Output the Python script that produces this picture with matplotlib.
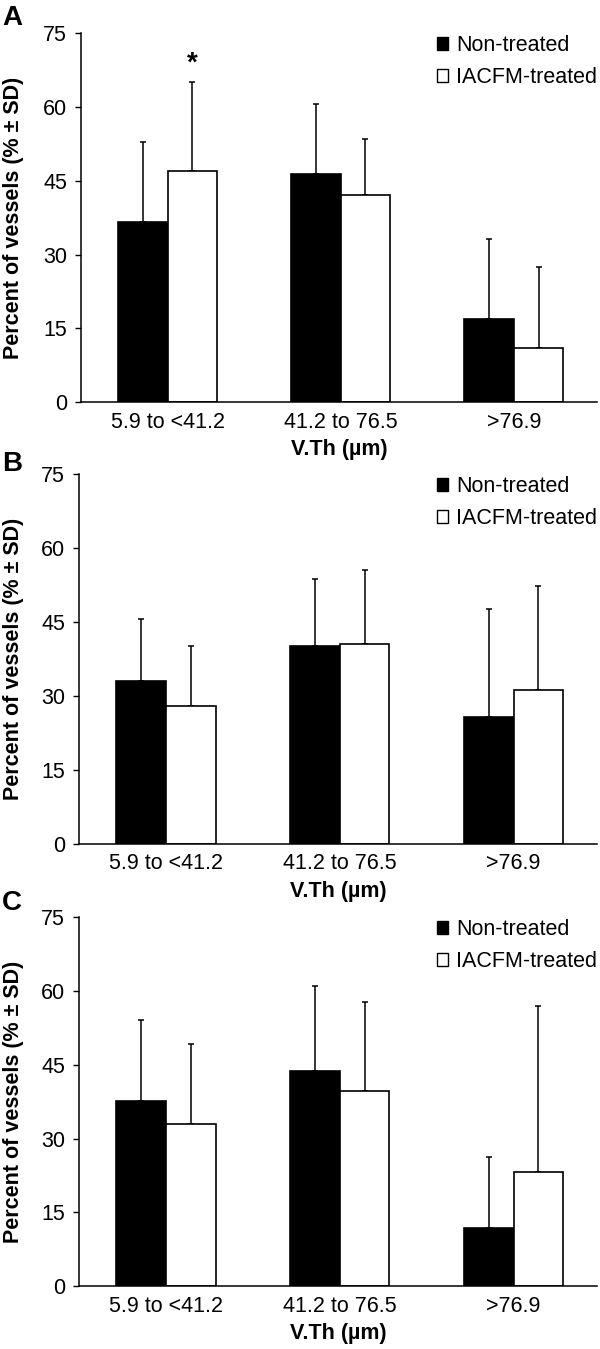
import matplotlib
matplotlib.use("Agg")
import matplotlib.pyplot as plt
import numpy as np

plt.rcParams['font.family'] = ['Liberation Sans', 'DejaVu Sans']

categories = ["5.9 to <41.2", "41.2 to 76.5", ">76.9"]
series_names = ["Non-treated", "IACFM-treated"]
panel_labels = ["A", "B", "C"]

# mean values (%)
A_non = [36.7, 46.4, 16.8]
A_iac = [46.9, 42.1, 10.9]
B_non = [33.0, 40.1, 25.8]
B_iac = [28.0, 40.5, 31.3]
C_non = [37.6, 43.7, 11.7]
C_iac = [32.9, 39.7, 23.2]

# SD (upper error only)
A_non_sd = [16.1, 14.2, 16.4]
A_iac_sd = [18.1, 11.3, 16.6]
B_non_sd = [12.7, 13.6, 21.8]
B_iac_sd = [12.1, 15.0, 21.0]
C_non_sd = [16.5, 17.4, 14.6]
C_iac_sd = [16.3, 18.1, 33.8]

yticks = [0, 15, 30, 45, 60, 75]
xlabel = "V.Th (µm)"
ylabel = "Percent of vessels (% ± SD)"

panels = [
    (A_non, A_iac, A_non_sd, A_iac_sd),
    (B_non, B_iac, B_non_sd, B_iac_sd),
    (C_non, C_iac, C_non_sd, C_iac_sd),
]

W, H = 600, 1349
fig = plt.figure(figsize=(W / 100, H / 100), dpi=100)

# axes rectangles in pixels: left, right, top, bottom
rects = [
    (81, 597, 33.3, 402.0),
    (79, 597, 474.3, 843.7),
    (79, 597, 917.3, 1286.0),
]
letter_y = [18, 463.5, 903.5]

FS = 15.5
bw = 0.286
x = np.arange(len(categories))

for i, ((non, iac, nsd, isd), (l, r, t, b)) in enumerate(zip(panels, rects)):
    ax = fig.add_axes([l / W, 1 - b / H, (r - l) / W, (b - t) / H])
    ax.bar(x - bw / 2, non, bw, color="black", edgecolor="black", linewidth=1.2,
           label=series_names[0], zorder=2)
    ax.bar(x + bw / 2, iac, bw, color="white", edgecolor="black", linewidth=1.2,
           label=series_names[1], zorder=2)
    ax.errorbar(x - bw / 2, non, yerr=[np.zeros(3), nsd], fmt="none", ecolor="black",
                elinewidth=1.1, capsize=2.5, capthick=1.1, zorder=1)
    ax.errorbar(x + bw / 2, iac, yerr=[np.zeros(3), isd], fmt="none", ecolor="black",
                elinewidth=1.1, capsize=2.5, capthick=1.1, zorder=1)
    ax.set_xlim(-0.5, 2.48)
    ax.set_ylim(0, 75)
    ax.set_yticks(yticks)
    ax.set_yticklabels([str(v) for v in yticks], fontsize=FS)
    ax.set_xticks(x)
    ax.set_xticklabels(categories, fontsize=FS)
    ax.tick_params(axis="x", length=0, pad=7)
    ax.tick_params(axis="y", length=4.5, width=1, pad=5.5)
    ax.spines["top"].set_visible(False)
    ax.spines["right"].set_visible(False)
    ax.spines["left"].set_linewidth(1.1)
    ax.spines["bottom"].set_linewidth(1.1)
    ax.set_xlabel(xlabel, fontsize=FS, fontweight="bold")
    ax.xaxis.set_label_coords(0.5, -37.0 / (b - t))
    ax.set_ylabel(ylabel, fontsize=FS, fontweight="bold")
    ax.yaxis.set_label_coords((24 - l) / (r - l), 0.5)
    leg = ax.legend(loc="upper right", bbox_to_anchor=(1.0, 0.995), frameon=False,
                    fontsize=FS, handlelength=0.52, handleheight=0.52, handletextpad=0.35,
                    labelspacing=0.5, borderaxespad=0, borderpad=0)
    for h in leg.legend_handles:
        h.set_linewidth(1.0)
    fig.text(2 / W, 1 - letter_y[i] / H, panel_labels[i], fontsize=20, fontweight="bold",
             ha="left", va="center")
    if i == 0:
        ax.text(x[0] + bw / 2, 67.5, "*", fontsize=20, fontweight="bold",
                ha="center", va="baseline")

fig.savefig("out.png", dpi=100)
